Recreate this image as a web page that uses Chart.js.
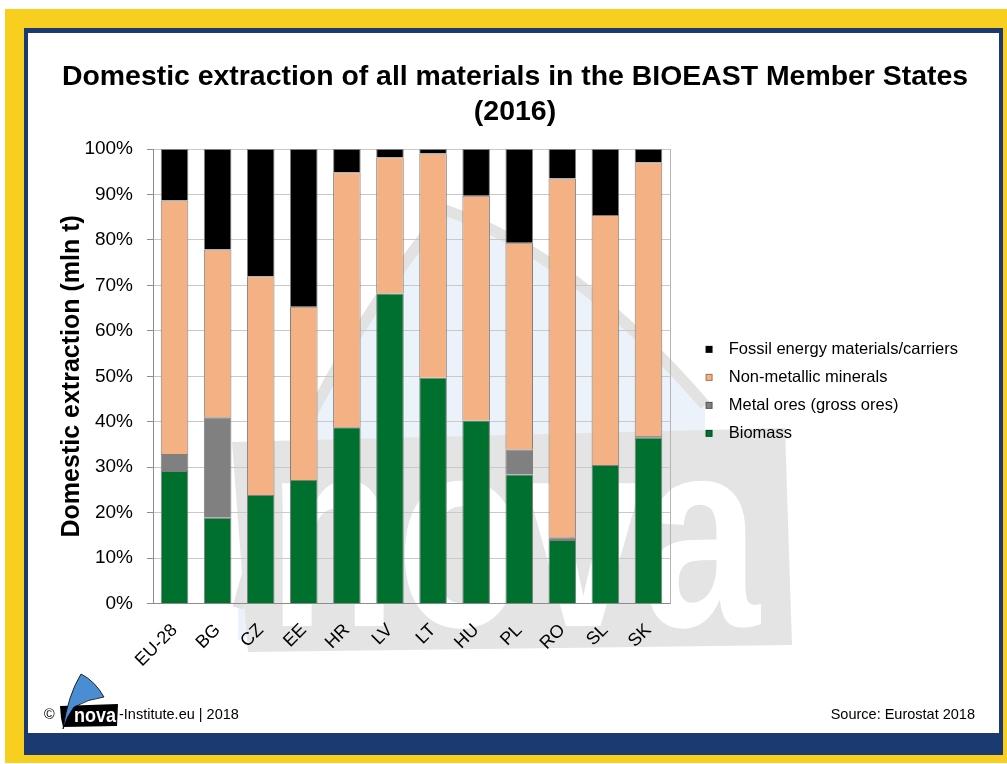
<!DOCTYPE html>
<html>
<head>
<meta charset="utf-8">
<script src="https://cdn.jsdelivr.net/npm/chart.js@4.4.0/dist/chart.umd.min.js"></script>
<style>
html,body{margin:0;padding:0;background:#fff;width:1007px;height:764px;overflow:hidden;font-family:"Liberation Sans",Arial,Helvetica,sans-serif;}
#yellow{position:absolute;left:5px;top:9px;width:1002px;height:754px;background:#F9CF1F;}
#navy{position:absolute;left:24px;top:28px;width:979px;height:727px;background:#1B3A72;}
#panel{position:absolute;left:28px;top:33px;width:971px;height:700px;background:#fff;}
#wrap{position:absolute;left:28px;top:33px;width:971px;height:700px;}
.foot{position:absolute;font-size:14.5px;color:#000;line-height:16px;z-index:5;}
#logo{position:absolute;left:40px;top:665px;z-index:5;}
</style>
</head>
<body>
<div id="yellow"></div>
<div id="navy"></div>
<div id="panel"></div>
<div id="wrap"><canvas id="c" width="971" height="700"></canvas></div>
<svg id="logo" width="90" height="70" viewBox="40 665 90 70">
  <polygon points="60,706 118,704 117,726 63,727 61,718" fill="#000"/>
  <path d="M63,729 Q68,695 81,674 Q95,681 104,697 Q88,699 74,707 Q67,716 63,729 Z" fill="#4A8DD3" stroke="#000" stroke-width="0.8"/>
  <text x="74" y="722" font-family="Liberation Sans, Arial" font-weight="bold" font-size="21" fill="#fff" transform="translate(74 0) scale(0.86 1) translate(-74 0)">nova</text>
</svg>
<div class="foot" style="left:44px;top:706px;">©</div>
<div class="foot" style="left:119px;top:706px;">-Institute.eu | 2018</div>
<div class="foot" style="right:32px;top:706px;">Source: Eurostat 2018</div>
<script>
// ---- data ----
const categories = ['EU-28','BG','CZ','EE','HR','LV','LT','HU','PL','RO','SL','SK'];
const biomass     = [29.2, 18.9, 23.9, 27.2, 38.8, 68.2, 49.7, 40.3, 28.4, 14.0, 30.5, 36.5];
const metalOres   = [ 3.7, 22.1,  0.0,  0.0,  0.0,  0.0,  0.0,  0.0,  5.5,  0.6,  0.0,  0.4];
const nonMetallic = [55.8, 36.9, 48.1, 38.1, 56.1, 30.0, 49.3, 49.4, 45.5, 78.9, 55.0, 60.2];
const fossil      = [11.3, 22.1, 28.0, 34.7,  5.1,  1.8,  1.0, 10.3, 20.6,  6.5, 14.5,  2.9];
const seriesNames = ['Biomass','Metal ores (gross ores)','Non-metallic minerals','Fossil energy materials/carriers'];
const seriesColors = ['#00702F','#808080','#F4B183','#000000'];
const yTicks = [0,10,20,30,40,50,60,70,80,90,100];

const FONT = '"Liberation Sans", Arial, Helvetica, sans-serif';

function swatch(color){
  const c = document.createElement('canvas');
  c.width = 39; c.height = 15;
  const x = c.getContext('2d');
  x.fillStyle = color; x.fillRect(24,4,7,7);
  x.strokeStyle = 'rgba(0,0,0,0.35)'; x.lineWidth = 1; x.strokeRect(24.5,4.5,6,6);
  return c;
}
const swatches = seriesColors.map(swatch);

// page -> canvas offsets for decorative watermark
const OX = 28, OY = 33;
const watermark = {
  id: 'watermark',
  beforeDraw(chart){
    const ctx = chart.ctx;
    const P = (x,y)=>[x-OX,y-OY];
    ctx.save();
    ctx.beginPath();
    ctx.moveTo(...P(238,608));
    ctx.quadraticCurveTo(...P(292,400), ...P(445,210));
    ctx.quadraticCurveTo(...P(575,255), ...P(705,405));
    ctx.lineTo(...P(705,470));
    ctx.lineTo(...P(238,640));
    ctx.closePath();
    ctx.fillStyle = '#EBF2F9';
    ctx.fill();
    ctx.beginPath();
    ctx.moveTo(...P(238,608));
    ctx.quadraticCurveTo(...P(292,400), ...P(445,210));
    ctx.quadraticCurveTo(...P(575,255), ...P(705,405));
    ctx.strokeStyle = '#E2E2E2';
    ctx.lineWidth = 11;
    ctx.stroke();
    ctx.beginPath();
    ctx.moveTo(...P(232,442));
    ctx.lineTo(...P(785,428));
    ctx.lineTo(...P(792,645));
    ctx.lineTo(...P(248,652));
    ctx.closePath();
    ctx.fillStyle = '#E4E4E4';
    ctx.fill();
    ctx.save();
    const [tx,ty] = P(268,626);
    ctx.translate(tx,ty);
    ctx.scale(0.78,1);
    ctx.font = 'bold 270px ' + FONT;
    ctx.fillStyle = '#FFFFFF';
    ctx.textBaseline = 'alphabetic';
    ctx.fillText('nova',0,0);
    ctx.restore();
    ctx.restore();
  }
};

const frame = {
  id: 'frame',
  beforeDatasetsDraw(chart){
    const {ctx, chartArea:a} = chart;
    ctx.save();
    ctx.strokeStyle = '#B5B5B5';
    ctx.lineWidth = 1;
    ctx.beginPath();
    ctx.moveTo(Math.round(a.right)+0.5, a.top);
    ctx.lineTo(Math.round(a.right)+0.5, a.bottom);
    ctx.stroke();
    ctx.restore();
  }
};

const datasetsData = [biomass, metalOres, nonMetallic, fossil];
const datasets = datasetsData.map((d,i)=>({
  label: seriesNames[i],
  data: d,
  backgroundColor: seriesColors[i],
  borderColor: '#7F7F7F',
  borderWidth: 1,
  barPercentage: 0.64,
  categoryPercentage: 1.0
}));

new Chart(document.getElementById('c'), {
  type: 'bar',
  data: { labels: categories, datasets },
  plugins: [watermark, frame],
  options: {
    responsive: false,
    animation: false,
    devicePixelRatio: 1,
    layout: { padding: { top: 0, left: 34, right: 31, bottom: 46 } },
    plugins: {
      title: {
        display: true,
        text: ['Domestic extraction of all materials in the BIOEAST Member States', '(2016)'],
        color: '#000',
        font: { family: FONT, size: 28.5, weight: 'bold', lineHeight: 35/28.5 },
        padding: { top: 26.5, bottom: 19.5 }
      },
      legend: {
        position: 'right',
        fullSize: false,
        reverse: true,
        maxWidth: 400,
        title: { display: true, text: '', font: { size: 10, lineHeight: 1 }, padding: { top: 10, bottom: 10 } },
        labels: {
          color: '#000',
          font: { family: FONT, size: 16.5 },
          padding: 11.5,
          usePointStyle: true,
          pointStyleWidth: 39,
          generateLabels(chart){
            const items = Chart.defaults.plugins.legend.labels.generateLabels(chart);
            items.forEach(it => { it.pointStyle = swatches[it.datasetIndex]; });
            return items;
          }
        }
      },
      tooltip: { enabled: false }
    },
    scales: {
      x: {
        stacked: true,
        grid: { display: false, drawTicks: false },
        border: { display: true, color: '#8C8C8C', width: 1 },
        ticks: {
          color: '#000',
          font: { family: FONT, size: 18 },
          minRotation: 45, maxRotation: 45,
          padding: 16,
          autoSkip: false
        }
      },
      y: {
        stacked: true,
        min: 0, max: 100,
        afterBuildTicks(scale){ scale.ticks = yTicks.map(v=>({value:v})); },
        afterFit(scale){ scale.width = 91; },
        grid: { color: '#C9C9C9', lineWidth: 1, tickLength: 6, tickColor: '#8C8C8C' },
        border: { display: true, color: '#8C8C8C', width: 1 },
        ticks: {
          color: '#000',
          font: { family: FONT, size: 19 },
          padding: 14,
          callback: v => v + '%'
        },
        title: {
          display: true,
          text: 'Domestic extraction (mln t)',
          color: '#000',
          font: { family: FONT, size: 25, weight: 'bold', lineHeight: 0.6 },
          padding: { top: 2.4, bottom: 0 }
        }
      }
    }
  }
});
</script>
</body>
</html>
